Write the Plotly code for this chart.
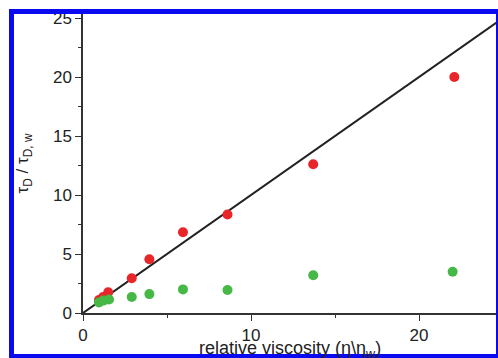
import plotly.graph_objects as go

# data
red_x = [0.95, 1.2, 1.5, 2.9, 3.95, 5.95, 8.6, 13.7, 22.1]
red_y = [1.1, 1.35, 1.75, 2.95, 4.55, 6.85, 8.35, 12.6, 20.0]
green_x = [0.95, 1.2, 1.55, 2.9, 3.95, 5.95, 8.6, 13.7, 22.0]
green_y = [0.9, 1.05, 1.15, 1.35, 1.6, 2.0, 1.95, 3.2, 3.5]
line_x = [0, 25]
line_y = [0, 25]
x_title = "relative viscosity (η\\η<sub>w</sub>)"
y_title = "τ<sub>D</sub> / τ<sub>D, w</sub>"

FONT = "Liberation Sans, Arial, sans-serif"

fig = go.Figure()
fig.add_trace(go.Scatter(x=line_x, y=line_y, mode="lines",
                         line=dict(color="#222222", width=2), showlegend=False))
fig.add_trace(go.Scatter(x=red_x, y=red_y, mode="markers",
                         marker=dict(color="#e8262a", size=10), showlegend=False))
fig.add_trace(go.Scatter(x=green_x, y=green_y, mode="markers",
                         marker=dict(color="#45b845", size=10), showlegend=False))

L, T, W, H = 83, 14, 414, 299

fig.update_layout(
    width=498, height=358,
    margin=dict(l=83, r=1, t=14, b=45, autoexpand=False),
    paper_bgcolor="white", plot_bgcolor="white",
    font=dict(family=FONT, size=16, color="#222222"),
    xaxis=dict(range=[0, 24.64], showgrid=False, zeroline=False,
               showline=True, linecolor="#333333", linewidth=1.5,
               tickmode="linear", tick0=0, dtick=10,
               ticks="outside", ticklen=6, tickcolor="#333333",
               minor=dict(tickmode="linear", tick0=0, dtick=5, ticks="outside",
                          ticklen=3, tickcolor="#333333"),
               tickfont=dict(size=17), automargin=False),
    yaxis=dict(range=[0, 25.34], showgrid=False, zeroline=False,
               showline=True, linecolor="#333333", linewidth=1.5,
               tickmode="linear", tick0=0, dtick=5,
               ticks="outside", ticklen=6, tickcolor="#333333",
               minor=dict(tickmode="linear", tick0=0, dtick=2.5, ticks="outside",
                          ticklen=3, tickcolor="#333333"),
               tickfont=dict(size=17), automargin=False,
               title=dict(text=y_title, font=dict(size=17), standoff=20)),
)

fig.add_annotation(text=x_title, xref="paper", yref="paper",
                   x=0.5, xanchor="center",
                   y=1 - (336 - T) / H, yanchor="top",
                   showarrow=False, font=dict(size=18, color="#222222"))

# blue frame
frame = [
    (9, 9, 498, 14),
    (9, 9, 14, 358),
    (496, 9, 498, 358),
    (9, 354, 498, 358),
]
for x0, y0, x1, y1 in frame:
    fig.add_shape(type="rect", xref="paper", yref="paper",
                  x0=(x0 - L) / W, x1=(x1 - L) / W,
                  y0=1 - (y0 - T) / H, y1=1 - (y1 - T) / H,
                  fillcolor="#0a0af0", line=dict(width=0), layer="above")

fig.write_html("out.html")
